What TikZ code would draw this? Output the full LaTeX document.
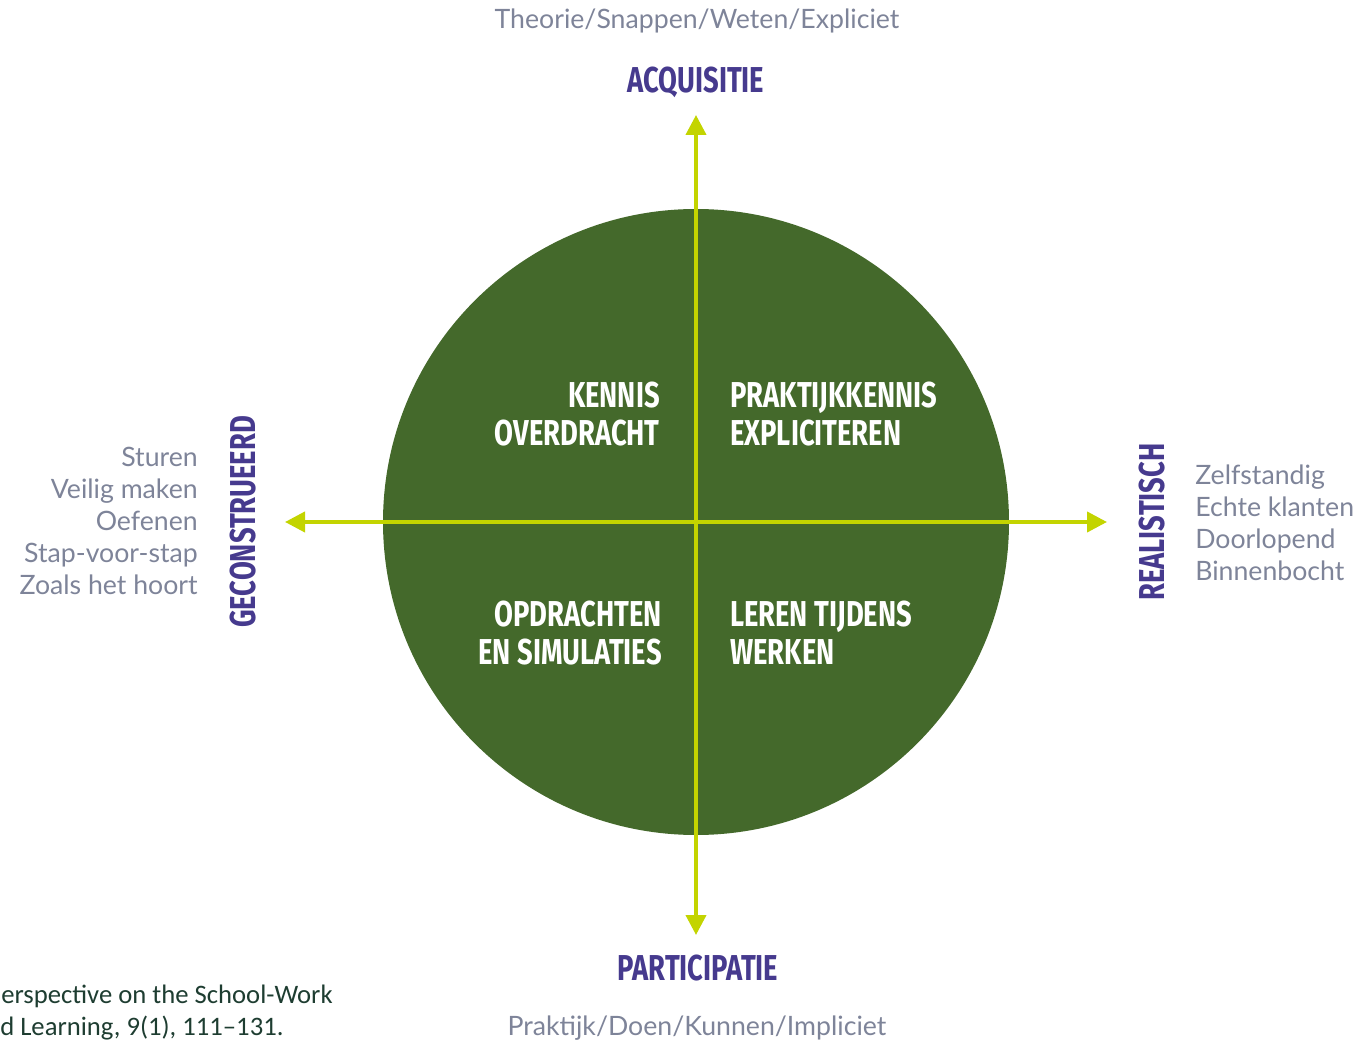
\documentclass[tikz,border=0pt]{standalone}
\usepackage{fontspec}
\setmainfont{Lato}
\newfontfamily\condfont[FakeStretch=0.76]{Fira Sans}
\newfontfamily\notefont{Carlito}
\usetikzlibrary{arrows.meta}
\definecolor{circgreen}{HTML}{44692B}
\definecolor{lime}{HTML}{C3D400}
\definecolor{violet}{HTML}{463A8E}
\definecolor{greytxt}{HTML}{7E8499}
\definecolor{notegreen}{HTML}{1E3D31}
\tikzstyle{axis} = [draw=lime, line width=3pt, 
{Triangle[width=15pt,length=15pt]}-{Triangle[width=15pt,length=15pt]}]
\tikzstyle{pole} = [inner sep=0pt, 
text=violet, 
font=\condfont\bfseries\fontsize{27}{27}\selectfont]
\tikzstyle{quad} = [inner sep=0pt, 
text=white, 
font=\condfont\bfseries\fontsize{27}{28.5}\selectfont]
\tikzstyle{hint} = [inner sep=0pt, 
text=greytxt, 
font=\fontsize{20}{24}\selectfont]
\tikzstyle{note} = [inner sep=0pt, anchor=base west, 
text=notegreen, 
font=\notefont\fontsize{20}{24}\selectfont]

\begin{document}
\begin{tikzpicture}[x=0.75pt, y=-0.75pt]
\useasboundingbox (0,0) rectangle (1361,1044);

\node (disc) [circle, fill=circgreen, minimum size=469.5pt, inner sep=0pt] at (696,522) {};

\coordinate (up) at (696,115);
\coordinate (down) at (696,935);
\coordinate (west) at (285,522);
\coordinate (east) at (1107,522);
\draw[axis] (up) -- (down);
\draw[axis] (west) -- (east);

\node (theo) [hint, anchor=base] at (697,29) {Theorie/Snappen/Weten/Expliciet};
\node (acq) [pole, anchor=base] at (696,93) {ACQUISITIE};
\node (part) [pole, anchor=base] at (698,980) {PARTICIPATIE};
\node (prak) [hint, anchor=base] at (697,1035) {Praktijk/Doen/Kunnen/Impliciet};

\node (geco) [pole, rotate=90] at (243,522) {GECONSTRUEERD};
\node (real) [pole, rotate=90] at (1152,522) {REALISTISCH};

\node (gecolist) [hint, anchor=north east, align=right] at (198,447) {Sturen\\Veilig maken\\Oefenen\\Stap-voor-stap\\Zoals het hoort};
\node (reallist) [hint, anchor=north west, align=left] at (1195,465) {Zelfstandig\\Echte klanten\\Doorlopend\\Binnenbocht};

\node (kennis) [quad, anchor=north east, align=right] at (660,382) {KENNIS\\OVERDRACHT};
\node (explic) [quad, anchor=north west, align=left] at (730,382) {PRAKTIJKKENNIS\\EXPLICITEREN};
\node (opdr) [quad, anchor=north east, align=right] at (662,601) {OPDRACHTEN\\EN SIMULATIES};
\node (leren) [quad, anchor=north west, align=left] at (730,601) {LEREN TIJDENS\\WERKEN};

\node (note1) [note] at (1,1003) {erspective on the School-Work};
\node (note2) [note] at (0,1035) {d Learning, 9(1), 111–131.};

\end{tikzpicture}
\end{document}
